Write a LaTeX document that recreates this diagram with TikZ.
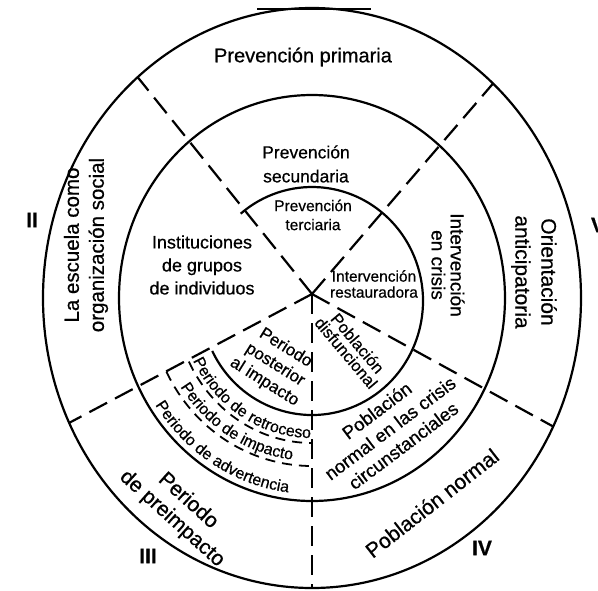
\documentclass[tikz,border=0pt]{standalone}
\usepackage{fontspec}
\setmainfont[FakeBold=0.6]{Liberation Sans}
\usetikzlibrary{decorations.text}
\newcommand\fsz[2]{\fontsize{#1}{#2}\selectfont}
\begin{document}
\begin{tikzpicture}[x=1pt,y=1pt,
  ring/.style={line width=2.2pt},
  divider/.style={line width=2.2pt, dash pattern=on 20pt off 9pt},
  subdiv/.style={line width=1.8pt, dash pattern=on 10pt off 7pt},
  lbl/.style={inner sep=0pt, align=center, text=black},
  numeral/.style={inner sep=0pt, font=\bfseries\fsz{21}{21}},
  arctext/.style={decorate, decoration={text along path, text align=center,
     text={|\fsz{16}{16}|#1}}}]
\useasboundingbox (0,0) rectangle (598,-590);
\coordinate (O) at (312,-298);
\coordinate (Oi) at (312,-301);
\coordinate (J) at (312,-294);

% concentric rings
\draw[ring] (O) ellipse [x radius=269, y radius=290];
\draw[ring] (O) ellipse [x radius=193, y radius=203];
\draw[ring] ([shift={(-154:111 and 114)}]Oi) arc[start angle=-154, end angle=130, x radius=111, y radius=114];
\draw[line width=2.8pt] (257,-9) -- (371,-9);

% radial dividers
\coordinate (pUL) at ([shift={(130.4:269 and 290)}]O);
\coordinate (pUR) at ([shift={(47.7:269 and 290)}]O);
\coordinate (pLR) at ([shift={(-26.3:269 and 290)}]O);
\coordinate (pLL) at ([shift={(205.5:269 and 290)}]O);
\coordinate (pD)  at ([shift={(-90:269 and 290)}]O);
\draw[divider] (J) -- (pUL);
\draw[divider] (J) -- (pUR);
\draw[divider] (J) -- (pLR);
\draw[divider] (J) -- (pLL);
\draw[divider] (J) -- (pD);

% sub-bands of the impact sector
\draw[subdiv] ([shift={(206:137 and 145)}]O) arc[start angle=206, end angle=270, x radius=137, y radius=145];
\draw[subdiv] ([shift={(206:162 and 168)}]O) arc[start angle=206, end angle=270, x radius=162, y radius=168];

\path[arctext={Periodo de retroceso}] ([shift={(206:133 and 140)}]O) arc[start angle=206, end angle=270, x radius=133, y radius=140];
\path[arctext={Periodo de impacto}] ([shift={(206:157 and 163)}]O) arc[start angle=206, end angle=270, x radius=157, y radius=163];
\path[arctext={Periodo de advertencia}] ([shift={(206:187 and 196)}]O) arc[start angle=206, end angle=270, x radius=187, y radius=196];

% labels
\node[lbl, font=\fsz{20}{24}] (prim) at (303,-57) {Prevención primaria};
\node[lbl, font=\fsz{17.5}{24}] (sec) at (306,-164) {Prevención\\secundaria};
\node[lbl, font=\fsz{15.5}{19}] (ter) at (313,-215) {Prevención\\terciaria};
\node[lbl, font=\fsz{18}{23}] (inst) at (202,-265) {Instituciones\\de grupos\\de individuos};
\node[lbl, font=\fsz{15.5}{16}] (rest) at (374,-284) {Intervención\\restauradora};
\node[lbl, font=\fsz{19}{19}, rotate=-90] (crisis) at (448,-265) {Intervención\\en crisis};
\node[lbl, font=\fsz{21}{26}, rotate=-90] (orient) at (534,-272) {Orientación\\anticipatoria};
\node[lbl, font=\fsz{20.5}{25}, rotate=90] (escuela) at (86,-245) {La escuela como\\organización social};
\node[lbl, font=\fsz{17}{20}, rotate=-32] (post) at (275,-365) {Periodo\\posterior\\al impacto};
\node[lbl, font=\fsz{16.5}{15}, rotate=-50] (disf) at (352,-348) {Población\\disfuncional};
\node[lbl, font=\fsz{18.5}{22}, rotate=37] (circ) at (390,-428) {Población\\normal en las crisis\\circunstanciales};
\node[lbl, font=\fsz{21}{21}, rotate=38] (pnorm) at (432,-503) {Población normal};
\node[lbl, font=\fsz{21}{24}, rotate=-42] (preimp) at (180,-510) {Periodo\\de preimpacto};

\node[numeral] (nII) at (32,-220) {II};
\node[numeral] (nIII) at (148,-556) {III};
\node[numeral] (nIV) at (482,-548) {IV};
\node[numeral] (nV) at (598,-225) {V};
\end{tikzpicture}
\end{document}
